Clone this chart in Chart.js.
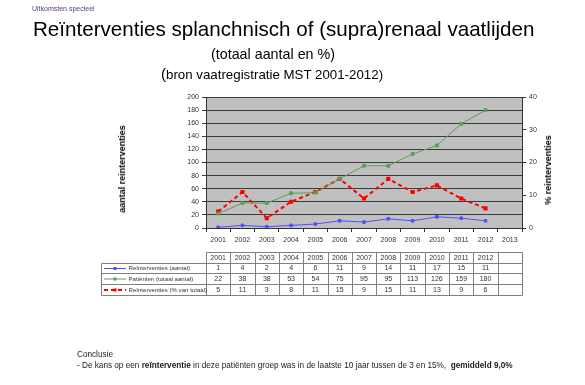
<!DOCTYPE html>
<html>
<head>
<meta charset="utf-8">
<script src="https://cdn.jsdelivr.net/npm/chart.js@4"></script>
<style>
  body { margin: 0; background: #fff; font-family: "Liberation Sans", Arial, sans-serif; }
  #wrap { position: relative; width: 585px; height: 385px; overflow: hidden; }
  canvas { position: absolute; left: 0; top: 0; }
  .t { position: absolute; white-space: nowrap; color: #000; }
  .rot { position: absolute; white-space: nowrap; font-weight: bold; font-size: 9px; color: #000;
         transform: translate(-50%, -50%) rotate(-90deg); }
</style>
</head>
<body>
<div id="wrap">
  <canvas id="chart" width="585" height="385"></canvas>
  <div class="t" style="left:32px; top:5px; font-size:7px; color:#5b3a7a;">Uitkomsten specieel</div>
  <div class="t" style="left:33px; top:17px; font-size:20.6px;">Reïnterventies splanchnisch of (supra)renaal vaatlijden</div>
  <div class="t" style="left:211px; top:46px; font-size:14.3px;">(totaal aantal en %)</div>
  <div class="t" style="left:161px; top:65px; font-size:13.3px;"><span style="font-size:15px">(</span>bron vaatregistratie MST 2001-2012)</div>
  <div class="rot" style="left:122px; top:169px;">aantal reinterventies</div>
  <div class="rot" style="left:548px; top:170px;">% reinterventies</div>
  <div class="t" style="left:77px; top:350px; font-size:8.2px; color:#222;">Conclusie</div>
  <div class="t" style="left:77px; top:361px; font-size:8.2px; color:#222;">- De kans op een <b>reïnterventie</b> in deze patiënten groep was in de laatste 10 jaar tussen de 3 en 15%,&nbsp; <b>gemiddeld 9,0%</b></div>
</div>
<script>
const years = ['2001', '2002', '2003', '2004', '2005', '2006', '2007', '2008', '2009', '2010', '2011', '2012', '2013'];
const reintAantal = [1, 4, 2, 4, 6, 11, 9, 14, 11, 17, 15, 11];
const patienten = [22, 38, 38, 53, 54, 75, 95, 95, 113, 126, 159, 180];
const reintPct = [5, 11, 3, 8, 11, 15, 9, 15, 11, 13, 9, 6];

const seriesNames = ['Reïnterventies (aantal)', 'Patiënten (totaal aantal)', 'Reïnterventies (% van totaal)'];

Chart.defaults.font.family = '"Liberation Sans", Arial, sans-serif';
Chart.defaults.color = '#333';

// grey plot area like the excel chart
const plotBg = {
  id: 'plotBg',
  beforeDraw(chart) {
    const a = chart.chartArea, c = chart.ctx;
    c.save();
    c.fillStyle = '#c0c0c0';
    c.fillRect(a.left, a.top, a.right - a.left, a.bottom - a.top);
    c.restore();
  }
};

// data table under the chart, columns follow the x scale
const dataTable = {
  id: 'dataTable',
  afterDraw(chart) {
    const c = chart.ctx, xs = chart.scales.x, a = chart.chartArea;
    const half = (xs.getPixelForValue(1) - xs.getPixelForValue(0)) / 2;
    const rows = [252.5, 263.5, 273.5, 284.5, 295.5];
    const tableLeft = 101.5;
    const colLeft = Math.round(a.left) + 0.5, colRight = Math.round(a.right) + 0.5;
    c.save();
    c.strokeStyle = '#808080';
    c.lineWidth = 1;
    c.beginPath();
    // header row (years only)
    c.moveTo(colLeft, rows[0]); c.lineTo(colRight, rows[0]);
    for (let r = 1; r < rows.length; r++) {
      c.moveTo(tableLeft, rows[r]); c.lineTo(colRight, rows[r]);
    }
    c.moveTo(tableLeft, rows[1]); c.lineTo(tableLeft, rows[4]);
    for (let i = 0; i <= years.length; i++) {
      const x = Math.round(xs.getPixelForValue(i) - half) + 0.5;
      c.moveTo(x, rows[0]); c.lineTo(x, rows[4]);
    }
    c.stroke();

    c.font = '7px "Liberation Sans", Arial, sans-serif';
    c.fillStyle = '#333';
    c.textAlign = 'center';
    c.textBaseline = 'middle';
    const rowData = [reintAantal, patienten, reintPct];
    for (let i = 0; i < years.length; i++) {
      const cx = xs.getPixelForValue(i);
      if (i < patienten.length) c.fillText(years[i], cx, (rows[0] + rows[1]) / 2);
      rowData.forEach((arr, r) => {
        if (arr[i] !== undefined) c.fillText(String(arr[i]), cx, (rows[r + 1] + rows[r + 2]) / 2);
      });
    }

    // legend keys
    c.font = '6.1px "Liberation Sans", Arial, sans-serif';
    chart.data.datasets.forEach((ds, r) => {
      const y = (rows[r + 1] + rows[r + 2]) / 2;
      c.save();
      c.strokeStyle = ds.borderColor;
      c.lineWidth = ds.borderWidth;
      c.setLineDash(ds.borderDash || []);
      c.beginPath(); c.moveTo(104, y); c.lineTo(126, y); c.stroke();
      c.setLineDash([]);
      c.fillStyle = ds.borderColor;
      c.fillRect(113.5, y - 1.5, 3, 3);
      c.restore();
      c.textAlign = 'left';
      c.fillText(ds.label, 128.5, y);
    });
    c.restore();
  }
};

new Chart(document.getElementById('chart'), {
  type: 'line',
  data: {
    labels: years,
    datasets: [{
      label: seriesNames[0],
      data: reintAantal,
      borderColor: '#4f4fff',
      backgroundColor: '#4f4fff',
      borderWidth: 1,
      pointStyle: 'rect',
      pointRadius: 1.8,
      yAxisID: 'y'
    }, {
      label: seriesNames[1],
      data: patienten,
      borderColor: '#55a055',
      backgroundColor: '#55a055',
      borderWidth: 1,
      pointStyle: 'rect',
      pointRadius: 2,
      yAxisID: 'y'
    }, {
      label: seriesNames[2],
      data: reintPct,
      borderColor: '#ff0000',
      backgroundColor: '#ff0000',
      borderWidth: 2,
      borderDash: [4, 3],
      pointStyle: 'rect',
      pointRadius: 1.5,
      yAxisID: 'y1'
    }]
  },
  options: {
    responsive: false,
    animation: false,
    layout: { padding: { left: 170, right: 27, top: 97, bottom: 137 } },
    plugins: {
      legend: { display: false },
      tooltip: { enabled: false }
    },
    scales: {
      x: {
        offset: true,
        afterFit: s => { s.height = 20; },
        grid: { drawOnChartArea: false, tickLength: 4, color: '#333', offset: true },
        border: { color: '#333' },
        ticks: { font: { size: 7 }, padding: 4, maxRotation: 0 }
      },
      y: {
        min: 0,
        max: 200,
        afterFit: s => { s.width = 36; },
        ticks: { stepSize: 20, font: { size: 7 }, padding: 3 },
        grid: { color: '#3c3c3c', tickLength: 4 },
        border: { color: '#333' }
      },
      y1: {
        position: 'right',
        min: 0,
        max: 40,
        afterFit: s => { s.width = 36; },
        ticks: { stepSize: 10, font: { size: 7 }, padding: 3 },
        grid: { drawOnChartArea: false, tickLength: 4, color: '#333' },
        border: { color: '#333' }
      }
    }
  },
  plugins: [plotBg, dataTable]
});
</script>
</body>
</html>
